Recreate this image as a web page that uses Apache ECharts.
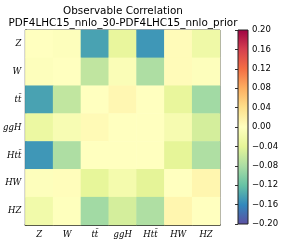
<!DOCTYPE html>
<html><head><meta charset="utf-8">
<script src="https://cdn.jsdelivr.net/npm/echarts@6/dist/echarts.min.js"></script>
<style>html,body{margin:0;padding:0;background:#fff}#c{width:283px;height:244px}</style>
</head><body><div id="c"></div>
<script>
const categories = ['Z', 'W', 'tt\u0304', 'ggH', 'Htt\u0304', 'HW', 'HZ'];
const rowZ   = [0.000, -0.003, -0.142, -0.035, -0.150, 0.005, -0.025];
const rowW   = [-0.003, 0.000, -0.066, -0.008, -0.078, 0.005, -0.003];
const rowTT  = [-0.142, -0.065, 0.000, 0.010, 0.000, -0.036, -0.085];
const rowGGH = [-0.030, -0.012, 0.007, 0.000, 0.000, -0.015, -0.052];
const rowHTT = [-0.150, -0.078, 0.000, 0.000, 0.000, -0.040, -0.077];
const rowHW  = [-0.003, 0.003, -0.038, -0.018, -0.041, 0.000, 0.012];
const rowHZ  = [-0.022, -0.002, -0.085, -0.052, -0.077, 0.012, 0.000];
const rows = [rowZ, rowW, rowTT, rowGGH, rowHTT, rowHW, rowHZ];
const colorbarTicks = [-0.20, -0.16, -0.12, -0.08, -0.04, 0.00, 0.04, 0.08, 0.12, 0.16, 0.20];
const titleLines = ['Observable Correlation', 'PDF4LHC15_nnlo_30-PDF4LHC15_nnlo_prior'];
const vmin = -0.2, vmax = 0.2;
const spectralR = ['#5e4fa2','#3288bd','#66c2a5','#abdda4','#e6f598','#ffffbf','#fee08b','#fdae61','#f46d43','#d53e4f','#9e0142'];

const data = [];
rows.forEach((r, yi) => r.forEach((v, xi) => data.push([xi, yi, v])));

const labelFont = {fontFamily: 'DejaVu Serif', fontStyle: 'italic', fontSize: 8.5, color: '#000'};
const fmt = v => (v < 0 ? '\u2212' : '') + Math.abs(v).toFixed(2);
const titleStyle = {fontFamily: 'DejaVu Sans', fontSize: 10.4, fill: '#000', textAlign: 'center', textVerticalAlign: 'middle'};

const chart = echarts.init(document.getElementById('c'), null, {renderer: 'canvas'});
chart.setOption({
  animation: false,
  graphic: [
    {type: 'text', x: 123, y: 11, style: Object.assign({text: titleLines[0]}, titleStyle)},
    {type: 'text', x: 123, y: 23, style: Object.assign({text: titleLines[1]}, titleStyle)}
  ],
  grid: [
    {left: 25, top: 30, width: 195, height: 195, show: true, borderColor: '#444', borderWidth: 1},
    {left: 238, top: 30, width: 10, height: 194, show: false}
  ],
  xAxis: [
    {type: 'category', data: categories, gridIndex: 0, position: 'bottom',
     axisLine: {lineStyle: {color: '#000', width: 1.5}},
     axisTick: {inside: true, alignWithLabel: true, length: 4, lineStyle: {color: '#000'}},
     axisLabel: Object.assign({margin: 5}, labelFont), splitLine: {show: false}},
    {type: 'category', data: categories, gridIndex: 0, position: 'top',
     axisLine: {show: false},
     axisTick: {inside: true, alignWithLabel: true, length: 4, lineStyle: {color: '#000'}},
     axisLabel: {show: false}},
    {type: 'value', gridIndex: 1, min: 0, max: 1, show: false}
  ],
  yAxis: [
    {type: 'category', data: categories, inverse: true, gridIndex: 0, position: 'left',
     axisLine: {lineStyle: {color: '#000', width: 1.5}},
     axisTick: {inside: true, alignWithLabel: true, length: 4, lineStyle: {color: '#000'}},
     axisLabel: Object.assign({margin: 4}, labelFont)},
    {type: 'category', data: categories, inverse: true, gridIndex: 0, position: 'right',
     axisLine: {show: false},
     axisTick: {inside: true, alignWithLabel: true, length: 4, lineStyle: {color: '#000'}},
     axisLabel: {show: false}},
    {type: 'value', gridIndex: 1, position: 'right', min: vmin, max: vmax, interval: 0.04,
     axisLine: {show: false},
     axisTick: {inside: true, length: 3, lineStyle: {color: '#333'}},
     splitLine: {show: false},
     axisLabel: {fontFamily: 'DejaVu Sans', fontSize: 8.5, color: '#000', margin: 4, formatter: fmt}}
  ],
  visualMap: {type: 'continuous', show: false, min: vmin, max: vmax, seriesIndex: 0, dimension: 2,
              inRange: {color: spectralR}},
  series: [
    {type: 'heatmap', xAxisIndex: 0, yAxisIndex: 0, data: data, itemStyle: {borderWidth: 0}},
    {type: 'custom', xAxisIndex: 2, yAxisIndex: 2, data: [[0, vmin, vmax]], z: 1,
     renderItem: function (params, api) {
       const p1 = api.coord([0, vmax]);
       const p2 = api.coord([1, vmin]);
       const stops = spectralR.slice().reverse().map((c, i) => ({offset: i / (spectralR.length - 1), color: c}));
       return {type: 'rect', shape: {x: p1[0], y: p1[1], width: p2[0] - p1[0], height: p2[1] - p1[1]},
               style: {fill: new echarts.graphic.LinearGradient(0, 0, 0, 1, stops), stroke: '#222', lineWidth: 1}};
     }}
  ]
});
</script></body></html>
